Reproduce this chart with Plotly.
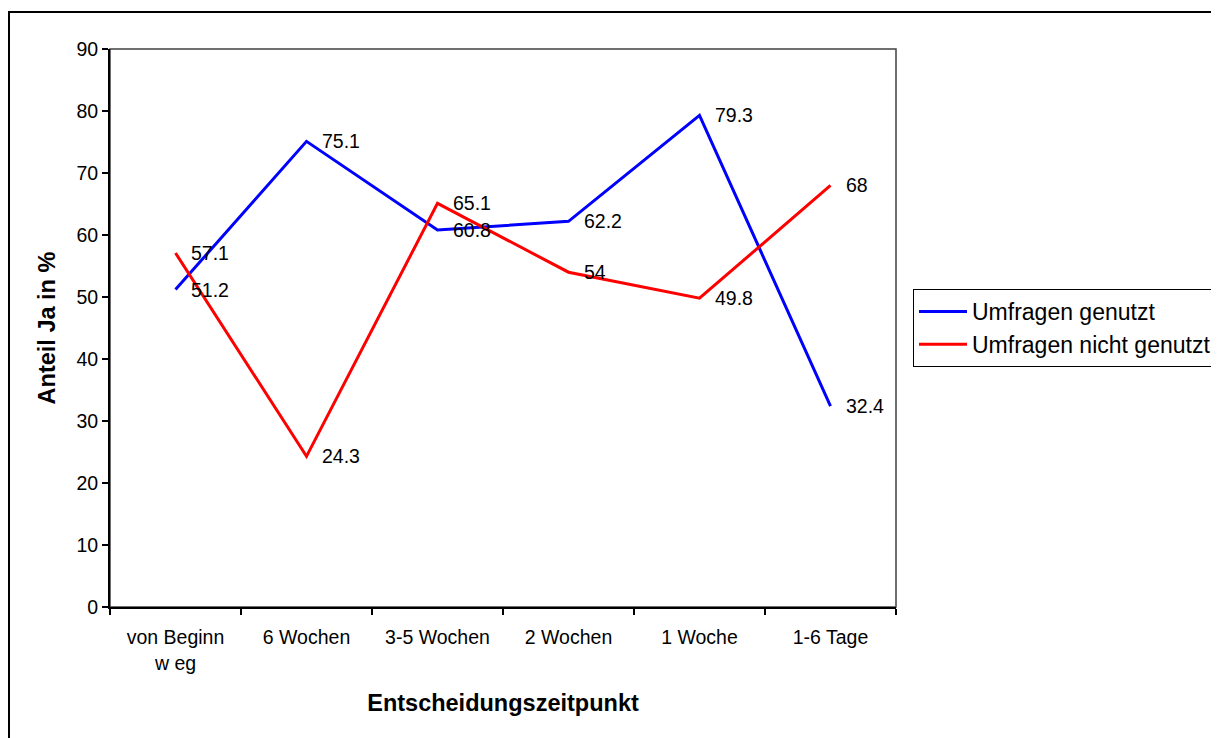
import plotly.graph_objects as go

categories = ["von Beginn<br>w eg", "6 Wochen", "3-5 Wochen", "2 Wochen", "1 Woche", "1-6 Tage"]
genutzt = [51.2, 75.1, 60.8, 62.2, 79.3, 32.4]
nicht_genutzt = [57.1, 24.3, 65.1, 54, 49.8, 68]
series_names = ["Umfragen genutzt", "Umfragen nicht genutzt"]
y_ticks = [0, 10, 20, 30, 40, 50, 60, 70, 80, 90]

FONT = "Liberation Sans, Arial, sans-serif"

W, H = 1211, 730
L, T, R, B = 102, 41, 1211 - 888, 730 - 599
pw, ph = W - L - R, H - T - B

fig = go.Figure()
fig.add_trace(go.Scatter(x=categories, y=genutzt, mode="lines", name=series_names[0],
                         line=dict(color="#0000FF", width=3)))
fig.add_trace(go.Scatter(x=categories, y=nicht_genutzt, mode="lines", name=series_names[1],
                         line=dict(color="#FF0000", width=3)))

annotations = []
for vals in (genutzt, nicht_genutzt):
    for c, v in zip(categories, vals):
        annotations.append(dict(x=c, y=v, xref="x", yref="y", text=f"{v:g}", showarrow=False,
                                xanchor="left", yanchor="middle", xshift=13,
                                font=dict(family=FONT, size=19.5, color="black")))

fig.update_layout(
    width=W, height=H,
    margin=dict(l=L, r=R, t=T, b=B, autoexpand=False),
    paper_bgcolor="white", plot_bgcolor="white",
    font=dict(family=FONT, size=19.5, color="black"),
    showlegend=True,
    legend=dict(x=(905 - L) / pw, y=(599 - 281) / ph, xanchor="left", yanchor="top",
                bordercolor="black", borderwidth=1, bgcolor="white",
                font=dict(family=FONT, size=23, color="black"),
                tracegroupgap=0, itemwidth=48),
    annotations=annotations,
    shapes=[
        dict(type="rect", xref="paper", yref="paper", x0=0, x1=1, y0=0, y1=1,
             line=dict(color="#404040", width=1.5), layer="below"),
        dict(type="rect", xref="paper", yref="paper", x0=(1 - L) / pw, x1=1.6, y0=-0.5, y1=(599 - 4) / ph,
             line=dict(color="black", width=2)),
    ],
)
fig.update_xaxes(type="category", range=[-0.5, 5.5], tickson="boundaries",
                 ticks="outside", ticklen=6, tickcolor="black", tickwidth=1.5,
                 showline=True, linecolor="black", linewidth=2, showgrid=False,
                 tickfont=dict(family=FONT, size=19.5), ticklabelstandoff=12,
                 title=dict(text="<b>Entscheidungszeitpunkt</b>", font=dict(family=FONT, size=23.5), standoff=22))
fig.update_yaxes(range=[0, 90], tickvals=y_ticks, ticks="outside", ticklen=6, tickcolor="black", tickwidth=1.5,
                 showline=True, linecolor="black", linewidth=2, showgrid=False, zeroline=False,
                 tickfont=dict(family=FONT, size=19.5),
                 title=dict(text="<b>Anteil Ja in %</b>", font=dict(family=FONT, size=23.5), standoff=14))

fig.write_html("out.html")
